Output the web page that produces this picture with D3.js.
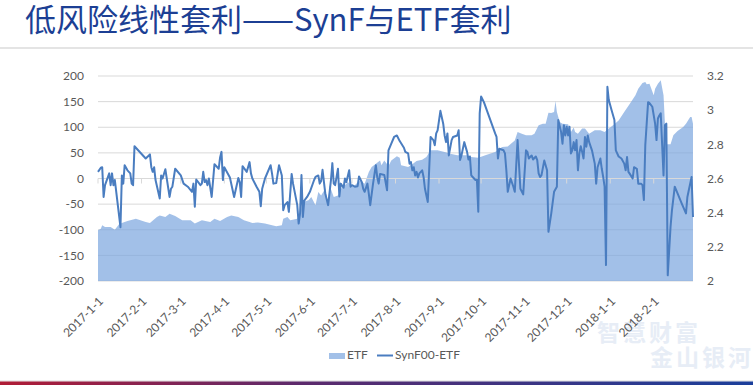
<!DOCTYPE html>
<html>
<head>
<meta charset="utf-8">
<script src="https://cdn.jsdelivr.net/npm/d3@7"></script>
<style>
  html, body { margin: 0; padding: 0; background: #fff; }
  svg { display: block; font-family: Lato, "Noto Sans CJK SC", sans-serif; }
</style>
</head>
<body>
<div id="chart"></div>
<script>
// Données : SynF00-ETF (axe gauche)
const spreadDates = [
  "2017-01-01","2017-01-03","2017-01-04","2017-01-05","2017-01-06","2017-01-09","2017-01-10","2017-01-11","2017-01-12","2017-01-13",
  "2017-01-17","2017-01-18","2017-01-19","2017-01-20","2017-01-22","2017-01-24","2017-01-25","2017-01-26","2017-01-27","2017-02-04",
  "2017-02-07","2017-02-08","2017-02-09","2017-02-10","2017-02-11","2017-02-14","2017-02-15","2017-02-16","2017-02-18","2017-02-21",
  "2017-02-22","2017-02-23","2017-02-25","2017-03-01","2017-03-03","2017-03-06","2017-03-09","2017-03-10","2017-03-11","2017-03-12",
  "2017-03-15","2017-03-16","2017-03-17","2017-03-18","2017-03-19","2017-03-20","2017-03-21","2017-03-23","2017-03-25","2017-03-28",
  "2017-03-29","2017-03-30","2017-03-31","2017-04-01","2017-04-05","2017-04-08","2017-04-11","2017-04-12","2017-04-13","2017-04-14",
  "2017-04-17","2017-04-19","2017-04-20","2017-04-21","2017-04-24","2017-04-26","2017-04-27","2017-04-28","2017-04-30","2017-05-04",
  "2017-05-05","2017-05-06","2017-05-08","2017-05-10","2017-05-12","2017-05-13","2017-05-14","2017-05-16","2017-05-17","2017-05-19",
  "2017-05-20","2017-05-23","2017-05-24","2017-05-25","2017-05-26","2017-05-27","2017-05-28","2017-05-30","2017-06-01","2017-06-04",
  "2017-06-05","2017-06-07","2017-06-08","2017-06-09","2017-06-10","2017-06-12","2017-06-14","2017-06-16","2017-06-17","2017-06-18",
  "2017-06-19","2017-06-21","2017-06-22","2017-06-23","2017-06-25","2017-06-26","2017-06-27","2017-06-29","2017-06-30","2017-07-01",
  "2017-07-03","2017-07-05","2017-07-06","2017-07-08","2017-07-09","2017-07-10","2017-07-12","2017-07-13","2017-07-14","2017-07-16",
  "2017-07-18","2017-07-19","2017-07-20","2017-07-21","2017-07-24","2017-07-26","2017-07-27","2017-07-29","2017-07-31","2017-08-02",
  "2017-08-04","2017-08-07","2017-08-08","2017-08-10","2017-08-11","2017-08-12","2017-08-13","2017-08-14","2017-08-15","2017-08-16",
  "2017-08-17","2017-08-18","2017-08-20","2017-08-21","2017-08-22","2017-08-24","2017-08-26","2017-08-28","2017-08-29","2017-08-30",
  "2017-08-31","2017-09-02","2017-09-04","2017-09-05","2017-09-06","2017-09-07","2017-09-08","2017-09-10","2017-09-11","2017-09-14",
  "2017-09-15","2017-09-16","2017-09-17","2017-09-19","2017-09-21","2017-09-22","2017-09-23","2017-09-24","2017-09-25","2017-09-27",
  "2017-09-28","2017-09-29","2017-09-30","2017-10-01","2017-10-03","2017-10-11","2017-10-12","2017-10-13","2017-10-14","2017-10-17",
  "2017-10-18","2017-10-19","2017-10-20","2017-10-22","2017-10-24","2017-10-25","2017-10-27","2017-10-29","2017-10-31","2017-11-02",
  "2017-11-03","2017-11-04","2017-11-06","2017-11-07","2017-11-09","2017-11-10","2017-11-11","2017-11-12","2017-11-13","2017-11-15",
  "2017-11-17","2017-11-18","2017-11-20","2017-11-22","2017-11-24","2017-11-25","2017-11-27","2017-11-28","2017-11-29","2017-11-30",
  "2017-12-01","2017-12-02","2017-12-03","2017-12-04","2017-12-05","2017-12-06","2017-12-07","2017-12-08","2017-12-09","2017-12-10",
  "2017-12-11","2017-12-12","2017-12-13","2017-12-14","2017-12-15","2017-12-16","2017-12-17","2017-12-19","2017-12-21","2017-12-22",
  "2017-12-23","2017-12-25","2017-12-26","2017-12-27","2017-12-28","2017-12-29","2017-12-30","2017-12-31","2018-01-02","2018-01-04",
  "2018-01-05","2018-01-07","2018-01-09","2018-01-11","2018-01-12","2018-01-13","2018-01-14","2018-01-15","2018-01-17","2018-01-18",
  "2018-01-20","2018-01-21","2018-01-23","2018-01-24","2018-01-25","2018-01-26","2018-01-28","2018-01-29","2018-01-31","2018-02-02",
  "2018-02-03","2018-02-04","2018-02-05","2018-02-06","2018-02-08","2018-02-09","2018-02-10","2018-02-11","2018-02-13","2018-02-14",
  "2018-02-16","2018-02-18","2018-02-21","2018-02-24","2018-02-25","2018-02-26","2018-02-28","2018-03-01"
];
const spreadValues = [
  13, 21, 22, -36, -13, 10, -13, 10, -13, -3,
  -95, 6, -10, 26, 16, 10, -10, -13, 63, 39,
  47, 22, 13, 22, -3, -39, 6, 0, 18, -36,
  -20, -16, 19, 6, -10, -16, -26, -10, -55, -2,
  -13, -10, 13, -7, -3, -13, 0, -36, 28, 19,
  41, 52, -3, 22, 2, -36, 1, -7, -36, 24,
  13, 32, 10, 0, -16, -26, -54, -20, 0, 26,
  10, -10, -9, 26, 6, -62, -52, -46, -65, 9,
  -10, -52, -88, -68, 7, -75, -43, -36, -26, -3,
  3, 6, -10, -5, 17, -30, -52, -3, 30, -10,
  -13, 19, -35, -10, -18, 0, -7, 16, -16, -13,
  -16, -15, 4, -7, -20, -26, -10, -30, -52, -10,
  26, 2, -10, 9, 7, -23, 55, 68, 81, 84,
  73, 60, 52, 49, 29, 32, 16, 22, 6, 13,
  2, 10, 16, 3, -20, -46, 81, 75, 65, 88,
  94, 132, 107, 84, 71, 88, 45, 75, 81, 84,
  94, 36, 45, 71, 52, 37, 43, 6, 3, -3,
  -2, -65, 127, 160, 149, 88, 81, 39, 58, 55,
  49, 16, -26, 0, -16, -26, 75, -20, -31, 55,
  52, 39, 45, 37, 43, 36, 10, 3, 6, 35,
  16, -104, -68, -26, -16, 114, 91, 68, 104, 84,
  101, 84, 101, 49, 55, 71, 55, 75, 16, 49,
  63, 52, 39, 81, 62, 84, 71, 55, 29, -10,
  22, 39, 19, 3, -16, -169, 179, 153, 133, 114,
  55, 43, 39, 29, 16, 42, 13, 9, 0, 22,
  19, -10, -10, -13, -42, 65, 149, 147, 140, 107,
  75, 117, 123, 127, 6, 104, 107, -189, -94, -62,
  -16, -29, -49, -68, -36, -23, 3, -75
];

// Données : ETF (axe droit)
const etfDates = [
  "2017-01-01","2017-01-03","2017-01-04","2017-01-06","2017-01-10","2017-01-13","2017-01-16","2017-01-18","2017-01-22","2017-01-28",
  "2017-02-04","2017-02-07","2017-02-12","2017-02-14","2017-02-18","2017-02-21","2017-02-25","2017-03-02","2017-03-08","2017-03-11",
  "2017-03-16","2017-03-22","2017-03-25","2017-03-29","2017-04-03","2017-04-06","2017-04-11","2017-04-15","2017-04-19","2017-04-21",
  "2017-04-25","2017-04-30","2017-05-05","2017-05-08","2017-05-12","2017-05-13","2017-05-16","2017-05-18","2017-05-23","2017-05-25",
  "2017-05-27","2017-05-31","2017-06-02","2017-06-05","2017-06-07","2017-06-09","2017-06-12","2017-06-14","2017-06-15","2017-06-18",
  "2017-06-21","2017-06-24","2017-06-26","2017-06-28","2017-07-02","2017-07-04","2017-07-07","2017-07-10","2017-07-13","2017-07-15",
  "2017-07-18","2017-07-21","2017-07-22","2017-07-24","2017-07-27","2017-07-29","2017-08-02","2017-08-04","2017-08-05","2017-08-10",
  "2017-08-13","2017-08-16","2017-08-20","2017-08-23","2017-08-26","2017-08-31","2017-09-05","2017-09-09","2017-09-14","2017-09-21",
  "2017-09-24","2017-09-29","2017-10-04","2017-10-11","2017-10-13","2017-10-16","2017-10-20","2017-10-25","2017-10-27","2017-10-30",
  "2017-11-02","2017-11-06","2017-11-08","2017-11-11","2017-11-14","2017-11-16","2017-11-18","2017-11-20","2017-11-22","2017-11-23",
  "2017-11-24","2017-11-26","2017-11-28","2017-12-02","2017-12-04","2017-12-06","2017-12-07","2017-12-09","2017-12-12","2017-12-14",
  "2017-12-17","2017-12-21","2017-12-25","2017-12-28","2017-12-31","2018-01-03","2018-01-07","2018-01-11","2018-01-15","2018-01-19",
  "2018-01-21","2018-01-24","2018-01-26","2018-01-27","2018-01-29","2018-02-01","2018-02-02","2018-02-04","2018-02-06","2018-02-08",
  "2018-02-09","2018-02-10","2018-02-13","2018-02-15","2018-02-18","2018-02-22","2018-02-24","2018-02-27","2018-02-28","2018-03-01"
];
const etfValues = [
  2.297, 2.306, 2.326, 2.316, 2.316, 2.300, 2.332, 2.340, 2.351, 2.365,
  2.345, 2.340, 2.375, 2.384, 2.375, 2.394, 2.381, 2.355, 2.355, 2.336,
  2.355, 2.345, 2.365, 2.351, 2.375, 2.384, 2.375, 2.355, 2.345, 2.340,
  2.342, 2.336, 2.326, 2.320, 2.326, 2.365, 2.375, 2.355, 2.365, 2.394,
  2.463, 2.472, 2.492, 2.443, 2.521, 2.501, 2.541, 2.450, 2.560, 2.492,
  2.501, 2.550, 2.560, 2.580, 2.550, 2.570, 2.589, 2.570, 2.638, 2.667,
  2.687, 2.706, 2.677, 2.706, 2.673, 2.706, 2.730, 2.722, 2.677, 2.667,
  2.683, 2.702, 2.710, 2.726, 2.765, 2.765, 2.755, 2.745, 2.736, 2.736,
  2.726, 2.722, 2.736, 2.755, 2.769, 2.784, 2.788, 2.823, 2.872, 2.862,
  2.853, 2.853, 2.862, 2.911, 2.921, 2.920, 2.985, 2.983, 2.989, 3.054,
  2.989, 2.931, 2.921, 2.917, 2.872, 2.898, 2.872, 2.862, 2.892, 2.892,
  2.862, 2.882, 2.882, 2.872, 2.892, 2.911, 2.940, 2.989, 3.038, 3.087,
  3.126, 3.159, 3.165, 3.151, 3.155, 3.087, 3.126, 3.155, 3.175, 3.087,
  2.921, 2.800, 2.800, 2.853, 2.878, 2.902, 2.921, 2.960, 2.960, 2.921
];

// Graduations
const leftTicks = [-200, -150, -100, -50, 0, 50, 100, 150, 200];
const rightTicks = [2, 2.2, 2.4, 2.6, 2.8, 3, 3.2];
const monthLabels = ["2017-1-1","2017-2-1","2017-3-1","2017-4-1","2017-5-1","2017-6-1","2017-7-1",
  "2017-8-1","2017-9-1","2017-10-1","2017-11-1","2017-12-1","2018-1-1","2018-2-1"];
const xStart = "2017-1-1", xEnd = "2018-3-1";
const seriesNames = ["ETF", "SynF00-ETF"];
const title = "低风险线性套利——SynF与ETF套利";
const watermark = ["智慧财富", "金山银河"];

const W = 753, H = 385;
const plot = {left: 98, right: 693, top: 76, bottom: 281};

const parse = d3.timeParse("%Y-%m-%d");
const spread = spreadDates.map((d, i) => ({date: parse(d), v: spreadValues[i]}));
const etf = etfDates.map((d, i) => ({date: parse(d), v: etfValues[i]}));

const svg = d3.select("#chart").append("svg")
    .attr("width", W)
    .attr("height", H);

// Dégradé de la barre du bas
const grad = svg.append("defs").append("linearGradient")
    .attr("id", "bar")
    .attr("x1", "0%").attr("x2", "100%");
grad.append("stop").attr("offset", "0%").attr("stop-color", "#b01c36");
grad.append("stop").attr("offset", "40%").attr("stop-color", "#5c2a6c");
grad.append("stop").attr("offset", "100%").attr("stop-color", "#1b3f9b");

// Titre
svg.append("text")
    .attr("x", 25)
    .attr("y", 31)
    .attr("font-family", "'Noto Sans CJK SC', sans-serif")
    .attr("font-size", 31)
    .attr("fill", "#1c3f94")
    .text(title);

svg.append("rect")
    .attr("x", 0).attr("y", 47)
    .attr("width", W).attr("height", 2)
    .attr("fill", "#e4e4e4");

// Filigrane
svg.append("text")
    .attr("x", 597).attr("y", 341)
    .attr("font-family", "'Noto Sans CJK SC', sans-serif")
    .attr("font-weight", 700)
    .attr("font-size", 23)
    .attr("letter-spacing", 3)
    .attr("fill", "#e7edf6")
    .text(watermark[0]);
svg.append("text")
    .attr("x", 650).attr("y", 366)
    .attr("font-family", "'Noto Sans CJK SC', sans-serif")
    .attr("font-weight", 700)
    .attr("font-size", 23)
    .attr("letter-spacing", 3)
    .attr("fill", "#e7edf6")
    .text(watermark[1]);

// Échelles
const x = d3.scaleTime()
    .domain([parse(xStart), parse(xEnd)])
    .range([plot.left, plot.right]);

const yLeft = d3.scaleLinear()
    .domain([-200, 200])
    .range([plot.bottom, plot.top]);

const yRight = d3.scaleLinear()
    .domain([2, 3.2])
    .range([plot.bottom, plot.top]);

// Grille
svg.append("g")
    .selectAll("line")
    .data(leftTicks)
    .enter().append("line")
    .attr("x1", plot.left)
    .attr("x2", plot.right)
    .attr("y1", d => yLeft(d))
    .attr("y2", d => yLeft(d))
    .attr("stroke", "#d9d9d9")
    .attr("stroke-width", 1);

// Aire ETF
const area = d3.area()
    .x(d => x(d.date))
    .y0(yRight(2))
    .y1(d => yRight(d.v));

svg.append("path")
    .datum(etf)
    .attr("d", area)
    .attr("fill", "#7ba5de")
    .attr("fill-opacity", 0.7);

// Axe horizontal sur le zéro
const xAxis = svg.append("g")
    .attr("transform", "translate(0," + yLeft(0) + ")");
xAxis.append("line")
    .attr("x1", plot.left)
    .attr("x2", plot.right)
    .attr("stroke", "#d9d9d9");
xAxis.selectAll(".tick")
    .data(monthLabels)
    .enter().append("line")
    .attr("x1", d => x(parse(d)))
    .attr("x2", d => x(parse(d)))
    .attr("y1", 0)
    .attr("y2", 5)
    .attr("stroke", "#d9d9d9");

// Ligne SynF00-ETF
const line = d3.line()
    .x(d => x(d.date))
    .y(d => yLeft(d.v));

svg.append("path")
    .datum(spread)
    .attr("d", line)
    .attr("fill", "none")
    .attr("stroke", "#4a7dc0")
    .attr("stroke-width", 2)
    .attr("stroke-linejoin", "round");

// Étiquettes des axes
svg.append("g")
    .selectAll("text")
    .data(leftTicks)
    .enter().append("text")
    .attr("x", 84)
    .attr("y", d => yLeft(d))
    .attr("dy", "0.35em")
    .attr("text-anchor", "end")
    .attr("font-size", 12)
    .attr("fill", "#595959")
    .text(d => d);

svg.append("g")
    .selectAll("text")
    .data(rightTicks)
    .enter().append("text")
    .attr("x", 707)
    .attr("y", d => yRight(d))
    .attr("dy", "0.35em")
    .attr("font-size", 12)
    .attr("fill", "#595959")
    .text(d => d);

svg.append("g")
    .selectAll("text")
    .data(monthLabels)
    .enter().append("text")
    .attr("transform", d => "translate(" + (x(parse(d)) + 3) + ",299) rotate(-45)")
    .attr("dy", "0.35em")
    .attr("text-anchor", "end")
    .attr("font-size", 12)
    .attr("fill", "#595959")
    .text(d => d);

// Légende
const legend = svg.append("g");
legend.append("rect")
    .attr("x", 329).attr("y", 353)
    .attr("width", 16).attr("height", 6)
    .attr("fill", "#7ba5de")
    .attr("fill-opacity", 0.7);
legend.append("text")
    .attr("x", 347).attr("y", 359)
    .attr("font-size", 12)
    .attr("fill", "#595959")
    .text(seriesNames[0]);
legend.append("line")
    .attr("x1", 377).attr("x2", 393)
    .attr("y1", 355.5).attr("y2", 355.5)
    .attr("stroke", "#4a7dc0")
    .attr("stroke-width", 2);
legend.append("text")
    .attr("x", 395).attr("y", 359)
    .attr("font-size", 12)
    .attr("fill", "#595959")
    .text(seriesNames[1]);

// Barre du bas
svg.append("rect")
    .attr("x", 0).attr("y", 380.5)
    .attr("width", W).attr("height", 1)
    .attr("fill", "#dcdcdc");
svg.append("rect")
    .attr("x", 0).attr("y", 381.5)
    .attr("width", W).attr("height", 3.5)
    .attr("fill", "url(#bar)");
</script>
</body>
</html>
